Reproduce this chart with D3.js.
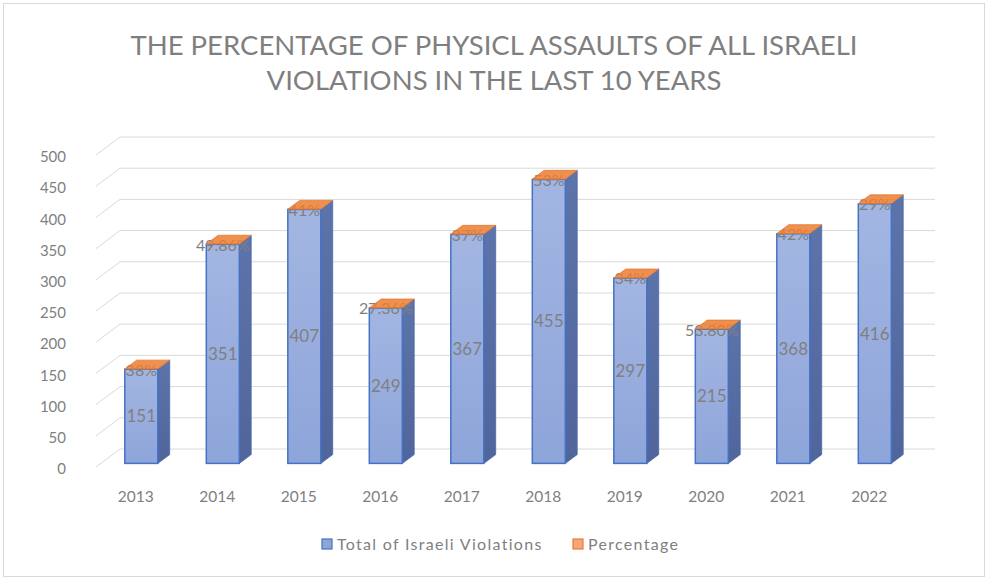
<!DOCTYPE html>
<html>
<head>
<meta charset="utf-8">
<script src="https://cdn.jsdelivr.net/npm/d3@7"></script>
<style>
  body { margin: 0; background: #fff; }
  text { font-family: Lato, "Open Sans", sans-serif; fill: #7f7f7f; }
</style>
</head>
<body>
<script>
// chart data
var years = ["2013", "2014", "2015", "2016", "2017", "2018", "2019", "2020", "2021", "2022"];
var totals = [151, 351, 407, 249, 367, 455, 297, 215, 368, 416];
var percents = [0.38, 0.4986, 0.41, 0.2736, 0.37, 0.53, 0.34, 0.538, 0.42, 0.29];
var percentLabels = ["38%", "49.86%", "41%", "27.36%", "37%", "53%", "34%", "53.80%", "42%", "29%"];
var yTicks = [0, 50, 100, 150, 200, 250, 300, 350, 400, 450, 500];
var seriesNames = ["Total of Israeli Violations", "Percentage"];

var svgWidth = 988;
var svgHeight = 580;

// oblique 3d depth offset (back wall vs front plane)
var depthX = 27, depthY = -20;
var barD0 = 0.28, barD1 = 0.72;

var svg = d3.select("body")
  .append("svg")
  .attr("width", svgWidth)
  .attr("height", svgHeight);

var defs = svg.append("defs");
var gFront = defs.append("linearGradient").attr("id", "gFront")
  .attr("x1", 0).attr("y1", 0).attr("x2", 0).attr("y2", 1);
gFront.append("stop").attr("offset", "0%").attr("stop-color", "#a3b6e2");
gFront.append("stop").attr("offset", "100%").attr("stop-color", "#8ea5da");
var gSide = defs.append("linearGradient").attr("id", "gSide")
  .attr("x1", 0).attr("y1", 0).attr("x2", 0).attr("y2", 1);
gSide.append("stop").attr("offset", "0%").attr("stop-color", "#5d74ab");
gSide.append("stop").attr("offset", "100%").attr("stop-color", "#4f659c");

// outer border
svg.append("rect")
  .attr("x", 3.5).attr("y", 3.5)
  .attr("width", svgWidth - 7).attr("height", svgHeight - 7)
  .attr("fill", "none")
  .attr("stroke", "#d9d9d9");

// title
var title = svg.append("text")
  .attr("text-anchor", "middle")
  .style("font-size", "27.5px");
title.append("tspan").attr("x", 494).attr("y", 55)
  .text("THE PERCENTAGE OF PHYSICL ASSAULTS OF ALL ISRAELI");
title.append("tspan").attr("x", 494).attr("y", 90)
  .text("VIOLATIONS IN THE LAST 10 YEARS");

// scales (front plane)
var xBand = d3.scaleBand()
  .domain(years)
  .range([93, 908]);

var yScale = d3.scaleLinear()
  .domain([0, 500])
  .range([469, 157]);

function px(x, d) { return x + depthX * d; }
function py(y, d) { return y + depthY * d; }

// gridlines on back wall + left wall diagonals
var grid = svg.append("g");
yTicks.forEach(function(t) {
  var y = yScale(t);
  grid.append("line")
    .attr("x1", px(93, 1)).attr("y1", py(y, 1))
    .attr("x2", px(908, 1)).attr("y2", py(y, 1))
    .attr("stroke", "#d9d9d9").attr("stroke-width", 1);
  grid.append("line")
    .attr("x1", 96).attr("y1", y - 2)
    .attr("x2", px(93, 1)).attr("y2", py(y, 1))
    .attr("stroke", "#d9d9d9").attr("stroke-width", 1);
});

// y axis labels
svg.append("g").selectAll("text")
  .data(yTicks)
  .enter()
  .append("text")
  .attr("x", 66)
  .attr("y", d => yScale(d))
  .attr("dy", "0.35em")
  .attr("text-anchor", "end")
  .style("font-size", "15px")
  .text(d => d);

// x axis labels
svg.append("g").selectAll("text")
  .data(years)
  .enter()
  .append("text")
  .attr("x", d => xBand(d) + xBand.bandwidth() / 2 + 2)
  .attr("y", 502)
  .attr("text-anchor", "middle")
  .style("font-size", "15.5px")
  .text(d => d);

// bars
var barW = 33;
var bars = years.map(function(yr, i) {
  return {
    year: yr,
    total: totals[i],
    pct: percents[i],
    label: percentLabels[i],
    x: xBand(yr) + (xBand.bandwidth() - barW) / 2
  };
});

function poly(points) {
  return points.map(p => p.join(",")).join(" ");
}

var barGroup = svg.append("g");
bars.forEach(function(b) {
  var g = barGroup.append("g");
  var x0 = px(b.x, barD0), x1 = px(b.x + barW, barD0);
  var yBase = py(yScale(0), barD0);
  var yTop = py(yScale(b.total), barD0);
  var yTop2 = py(yScale(b.total + b.pct), barD0);
  var dx = depthX * (barD1 - barD0), dy = depthY * (barD1 - barD0);

  // side face
  g.append("polygon")
    .attr("points", poly([[x1, yTop2], [x1 + dx, yTop2 + dy], [x1 + dx, yBase + dy], [x1, yBase]]))
    .attr("fill", "url(#gSide)")
    .attr("stroke", "#4a67a8").attr("stroke-width", 0.8);

  // front face (blue series)
  g.append("rect")
    .attr("x", x0).attr("y", yTop)
    .attr("width", barW).attr("height", yBase - yTop)
    .attr("fill", "url(#gFront)")
    .attr("stroke", "#4472c4").attr("stroke-width", 1.5);

  // value label in the middle of the front face
  g.append("text")
    .attr("x", x0 + barW / 2)
    .attr("y", (yTop + yBase) / 2)
    .attr("dy", "0.35em")
    .attr("text-anchor", "middle")
    .style("font-size", "17px")
    .text(b.total);

  // percentage label at top of the stack
  g.append("text")
    .attr("x", x0 + barW / 2)
    .attr("y", yTop2 + 1)
    .attr("dy", "0.35em")
    .attr("text-anchor", "middle")
    .style("font-size", "16px")
    .text(b.label);

  // top face (orange series, stacked on top)
  g.append("polygon")
    .attr("points", poly([[x0, yTop2], [x1, yTop2], [x1 + dx, yTop2 + dy], [x0 + dx, yTop2 + dy]]))
    .attr("fill", "#ec7c30")
    .attr("fill-opacity", 0.85)
    .attr("stroke", "#e07a36").attr("stroke-width", 0.8);
});

// legend
var legend = svg.append("g");
var legendItems = [
  { name: seriesNames[0], color: "#8ea5da", stroke: "#4472c4", x: 322 },
  { name: seriesNames[1], color: "#f4a57a", stroke: "#ed7d31", x: 573 }
];
legendItems.forEach(function(it) {
  legend.append("rect")
    .attr("x", it.x).attr("y", 539)
    .attr("width", 10).attr("height", 10)
    .attr("fill", it.color)
    .attr("stroke", it.stroke).attr("stroke-width", 1.2);
  legend.append("text")
    .attr("x", it.x + 15).attr("y", 544)
    .attr("dy", "0.35em")
    .style("font-size", "16px")
    .style("letter-spacing", "1.3px")
    .text(it.name);
});
</script>
</body>
</html>
